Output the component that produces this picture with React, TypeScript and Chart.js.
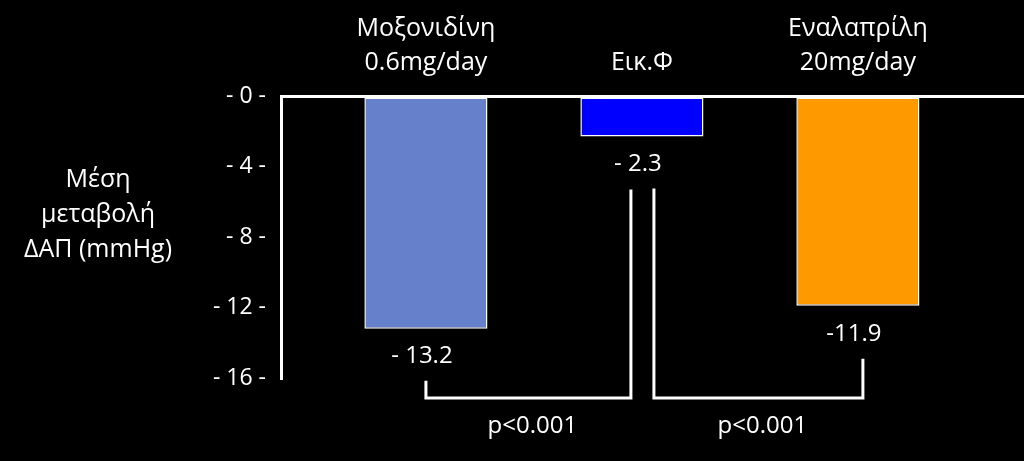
import React, { useEffect, useRef } from 'react';
import { Chart, registerables } from 'chart.js';

Chart.register(...registerables);

// ---- data ----
const categories: string[][] = [['Μοξονιδίνη', '0.6mg/day'], ['Εικ.Φ'], ['Εναλαπρίλη', '20mg/day']];
const categoryPositions = [1, 2, 3];
const meanChange = [-13.2, -2.3, -11.9];
const valueLabels = ['- 13.2', '- 2.3', '-11.9'];
const barColors = ['#6680CC', '#0000FF', '#FF9900'];
const yTickValues = [0, -4, -8, -12, -16];
const yTickLabels = ['- 0 -', '- 4 -', '- 8 -', '- 12 -', '- 16 -'];
const axisTitleLines = ['Μέση', 'μεταβολή', 'ΔΑΠ (mmHg)'];
const comparisonPairs = [
  [0, 1],
  [1, 2],
];
const comparisonLabels = ['p<0.001', 'p<0.001'];

const FONT = "'Open Sans', 'DejaVu Sans', sans-serif";

const blackBackground = {
  id: 'blackBackground',
  beforeDraw(chart: any) {
    const { ctx, width, height } = chart;
    ctx.save();
    ctx.fillStyle = '#000';
    ctx.fillRect(0, 0, width, height);
    ctx.restore();
  },
};

const annotations = {
  id: 'annotations',
  afterDraw(chart: any) {
    const { ctx, chartArea } = chart;
    const meta = chart.getDatasetMeta(0);
    ctx.save();
    ctx.fillStyle = '#fff';
    ctx.strokeStyle = '#fff';
    ctx.textAlign = 'center';
    ctx.textBaseline = 'middle';

    // value labels under bars
    ctx.font = `24px ${FONT}`;
    meta.data.forEach((el: any, i: number) => {
      ctx.fillText(valueLabels[i], el.x - 4, el.y + 28);
    });

    // y axis title (horizontal, left)
    ctx.font = `25px ${FONT}`;
    const titleX = chartArea.left - 183;
    axisTitleLines.forEach((line, i) => {
      ctx.fillText(line, titleX, 180 + i * 35);
    });

    // comparison brackets
    const baseY = chartArea.bottom + 20;
    ctx.lineWidth = 3;
    ctx.lineJoin = 'miter';
    comparisonPairs.forEach(([a, b], k) => {
      const ea = meta.data[a];
      const eb = meta.data[b];
      const xa = ea.x + (a === 1 ? 12 : 0);
      const xb = eb.x + (b === 1 ? -11 : b === 2 ? 5 : 0);
      ctx.beginPath();
      ctx.moveTo(xa, ea.y + 52);
      ctx.lineTo(xa, baseY);
      ctx.lineTo(xb, baseY);
      ctx.lineTo(xb, eb.y + 53);
      ctx.stroke();
      ctx.font = `24px ${FONT}`;
      ctx.fillText(comparisonLabels[k], (xa + xb) / 2 + 4, baseY + 28);
    });
    ctx.restore();
  },
};

export default function App() {
  const canvasRef = useRef<HTMLCanvasElement | null>(null);

  useEffect(() => {
    document.body.style.margin = '0';
    document.body.style.background = '#000';
    const canvas = canvasRef.current;
    if (!canvas) return;
    const chart = new Chart(canvas, {
      type: 'bar',
      data: {
        datasets: [
          {
            data: meanChange.map((v, i) => ({ x: categoryPositions[i], y: v })),
            backgroundColor: barColors,
            borderColor: '#ffffff',
            borderWidth: 1.5,
            borderSkipped: false,
            barPercentage: 0.57,
            categoryPercentage: 1,
          },
        ],
      },
      options: {
        animation: false,
        responsive: true,
        maintainAspectRatio: false,
        layout: { padding: { left: 0, right: 0, top: 0, bottom: 83 } },
        plugins: { legend: { display: false }, tooltip: { enabled: false } },
        scales: {
          x: {
            type: 'linear',
            position: 'top',
            offset: false,
            min: 0.329,
            max: 3.769,
            grid: { display: false, offset: false },
            border: { display: false },
            afterBuildTicks: (scale: any) => {
              scale.ticks = categoryPositions.map((v) => ({ value: v }));
            },
            afterFit: (scale: any) => {
              scale.height = 96;
            },
            ticks: {
              autoSkip: false,
              maxRotation: 0,
              minRotation: 0,
              color: '#ffffff',
              padding: 8,
              font: { family: FONT, size: 25, lineHeight: 1.36 },
              callback: (_v: any, i: number) => categories[i],
            },
          },
          y: {
            min: -16,
            max: 0,
            afterBuildTicks: (scale: any) => {
              scale.ticks = yTickValues.map((v) => ({ value: v }));
            },
            afterFit: (scale: any) => {
              scale.width = 281;
            },
            grid: {
              drawTicks: false,
              lineWidth: 3,
              color: (ctx: any) => (ctx.tick && ctx.tick.value === 0 ? '#ffffff' : 'rgba(0,0,0,0)'),
            },
            border: { display: true, color: '#ffffff', width: 3 },
            ticks: {
              color: '#ffffff',
              padding: 15,
              font: { family: FONT, size: 23 },
              callback: (_v: any, i: number) => yTickLabels[i],
            },
          },
        },
      } as any,
      plugins: [blackBackground, annotations],
    });
    return () => chart.destroy();
  }, []);

  return (
    <div style={{ position: 'relative', width: 1024, height: 461, background: '#000' }}>
      <canvas ref={canvasRef} />
    </div>
  );
}
